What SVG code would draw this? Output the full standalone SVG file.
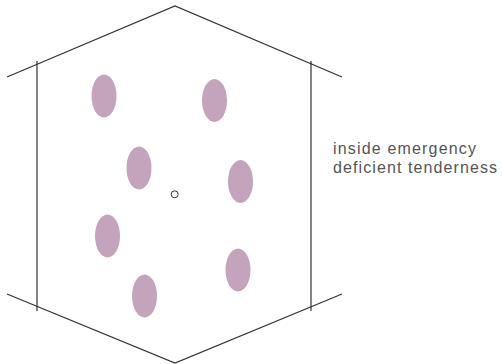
<svg xmlns="http://www.w3.org/2000/svg" width="502" height="364" viewBox="0 0 502 364">
<style>
.ln{fill:none;stroke:#333;stroke-width:1.2}
.sp{fill:#c4a3bd}
.t{font-family:"Liberation Sans",Arial,sans-serif;font-size:16px;fill:#555}
</style>
<rect width="502" height="364" fill="#fff"/>
<g id="frame">
<polyline class="ln" points="7,77 175,6 342,77"/>
<polyline class="ln" points="7,294 175,363 342,294"/>
<line class="ln" x1="37" y1="61" x2="37" y2="311"/>
<line class="ln" x1="311" y1="61" x2="311" y2="311" stroke="#777"/>
</g>
<g id="spots">
<ellipse class="sp" cx="104" cy="96" rx="12.5" ry="21.5"/>
<ellipse class="sp" cx="214.5" cy="100.5" rx="12.5" ry="21.5"/>
<ellipse class="sp" cx="139" cy="168" rx="12.5" ry="21.5"/>
<ellipse class="sp" cx="240.5" cy="181.5" rx="12.5" ry="21.5"/>
<ellipse class="sp" cx="107.5" cy="236" rx="12.5" ry="21.5"/>
<ellipse class="sp" cx="238" cy="270" rx="12.5" ry="21.5"/>
<ellipse class="sp" cx="144.5" cy="296" rx="12.5" ry="21.5"/>
</g>
<g id="center">
<circle cx="174.7" cy="194.3" r="3.5" fill="#fff" stroke="#333" stroke-width="1"/>
</g>
<g id="label">
<text class="t" x="333" y="154" textLength="143" lengthAdjust="spacing">inside emergency</text>
<text class="t" x="333" y="173" textLength="164" lengthAdjust="spacing">deficient tenderness</text>
</g>
</svg>
